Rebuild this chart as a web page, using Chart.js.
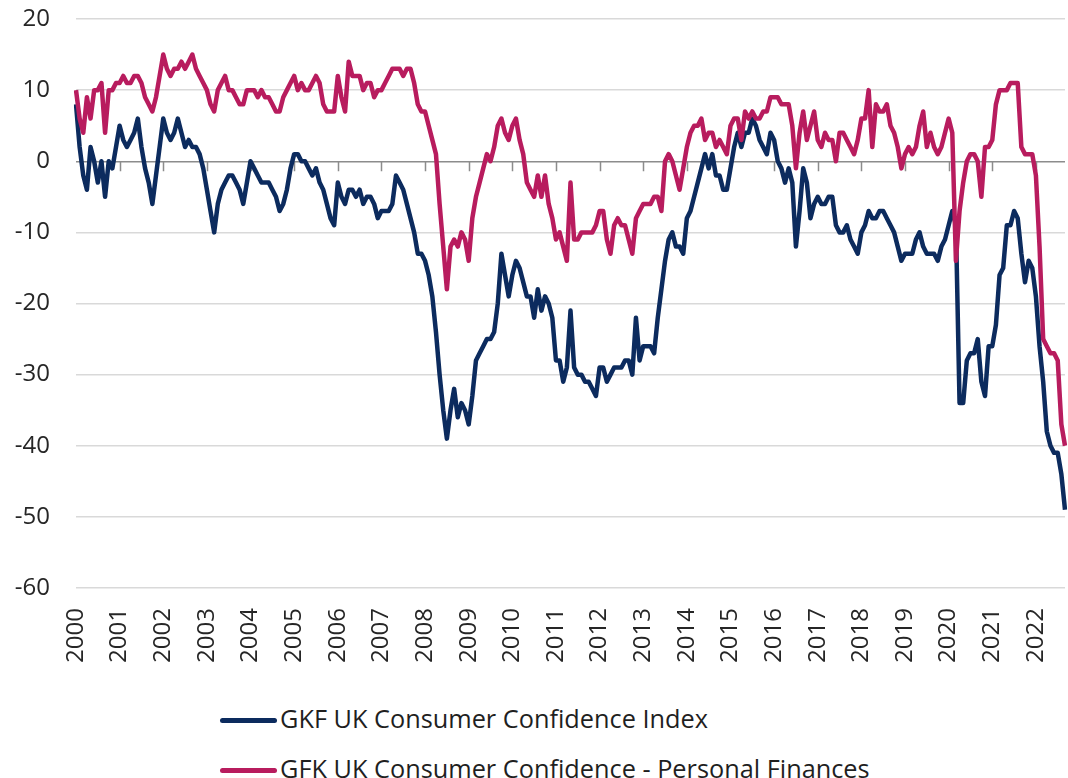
<!DOCTYPE html>
<html>
<head>
<meta charset="utf-8">
<script src="https://cdn.jsdelivr.net/npm/chart.js@4.4.1/dist/chart.umd.min.js"></script>
<style>
  html, body { margin: 0; padding: 0; background: #fff; }
  #wrap { position: relative; width: 1068px; height: 778px; overflow: hidden; }
  #box { position: absolute; left: 0; top: 0; width: 1068px; height: 690px; }
  .leg { position: absolute; left: 220px; height: 34px; line-height: 34px; font-family: "Open Sans", sans-serif; font-size: 25.3px; color: #1f1f1f; white-space: nowrap; }
  .leg span { display: inline-block; width: 57px; height: 5px; border-radius: 3px; vertical-align: middle; margin-right: 3px; position: relative; top: -1px; }
</style>
</head>
<body>
<div id="wrap">
  <div id="box"><canvas id="chart"></canvas></div>
  <div class="leg" style="top:701px"><span style="background:#0c2b5e"></span>GKF UK Consumer Confidence Index</div>
  <div class="leg" style="top:751px"><span style="background:#b81c5e"></span>GFK UK Consumer Confidence - Personal Finances</div>
</div>
<script>
// years shown on the x axis (monthly data, Jan 2000 - Sep 2022)
const yearLabels = ["2000","2001","2002","2003","2004","2005","2006","2007","2008","2009","2010",
  "2011","2012","2013","2014","2015","2016","2017","2018","2019","2020","2021","2022"];

const yTicks = [20, 10, 0, -10, -20, -30, -40, -50, -60];

// GfK headline index
const confidenceIndex = [
  8, 2, -2, -4, 2, 0, -3, 0, -5, 0, -1, 2,
  5, 3, 2, 3, 4, 6, 2, -1, -3, -6, -2, 2,
  6, 4, 3, 4, 6, 4, 2, 3, 2, 2, 1, -1,
  -4, -7, -10, -6, -4, -3, -2, -2, -3, -4, -6, -3,
  0, -1, -2, -3, -3, -3, -4, -5, -7, -6, -4, -1,
  1, 1, 0, 0, -1, -2, -1, -3, -4, -6, -8, -9,
  -3, -5, -6, -4, -4, -5, -4, -6, -5, -5, -6, -8,
  -7, -7, -7, -6, -2, -3, -4, -6, -8, -10, -13, -13,
  -14, -16, -19, -24, -30, -35, -39, -35, -32, -36, -34, -35,
  -37, -33, -28, -27, -26, -25, -25, -24, -20, -13, -16, -19,
  -16, -14, -15, -17, -19, -19, -22, -18, -21, -19, -20, -22,
  -28, -28, -31, -29, -21, -29, -30, -30, -31, -31, -32, -33,
  -29, -29, -31, -30, -29, -29, -29, -28, -28, -30, -22, -28,
  -26, -26, -26, -27, -22, -18, -14, -11, -10, -12, -12, -13,
  -8, -7, -5, -3, -1, 1, -1, 1, -2, -2, -4, -4,
  -1, 2, 4, 2, 4, 4, 6, 5, 3, 2, 1, 4,
  3, 0, -1, -3, -1, -3, -12, -7, -1, -3, -8, -6,
  -5, -6, -6, -5, -5, -9, -10, -10, -9, -11, -12, -13,
  -10, -9, -7, -8, -8, -7, -7, -8, -9, -10, -12, -14,
  -13, -13, -13, -11, -10, -12, -13, -13, -13, -14, -12, -11,
  -9, -7, -9, -34, -34, -28, -27, -27, -25, -31, -33, -26,
  -26, -23, -16, -15, -9, -9, -7, -8, -13, -17, -14, -15,
  -19, -26, -31, -38, -40, -41, -41, -44, -49
];

// GfK personal finances sub-index
const personalFinances = [
  10, 6, 4, 9, 6, 10, 10, 11, 4, 10, 10, 11,
  11, 12, 11, 11, 12, 12, 11, 9, 8, 7, 9, 12,
  15, 13, 12, 13, 13, 14, 13, 14, 15, 13, 12, 11,
  10, 8, 7, 10, 11, 12, 10, 10, 9, 8, 8, 10,
  10, 10, 9, 10, 9, 9, 8, 7, 7, 9, 10, 11,
  12, 10, 11, 10, 10, 11, 12, 11, 8, 7, 7, 7,
  12, 9, 7, 14, 12, 12, 12, 10, 11, 11, 9, 10,
  10, 11, 12, 13, 13, 13, 12, 13, 13, 11, 8, 7,
  7, 5, 3, 1, -6, -12, -18, -12, -11, -12, -10, -11,
  -14, -8, -5, -3, -1, 1, 0, 2, 5, 6, 4, 3,
  5, 6, 3, 1, -3, -4, -5, -2, -5, -2, -6, -8,
  -11, -10, -12, -14, -3, -11, -11, -10, -10, -10, -10, -9,
  -7, -7, -11, -13, -9, -8, -9, -9, -11, -13, -8, -7,
  -6, -6, -6, -5, -5, -7, 0, 1, 0, -2, -4, -1,
  2, 4, 5, 5, 6, 3, 4, 4, 2, 3, 2, 1,
  5, 6, 6, 3, 7, 6, 7, 6, 6, 7, 7, 9,
  9, 9, 8, 8, 8, 5, -1, 4, 7, 3, 5, 7,
  3, 2, 4, 3, 3, 0, 4, 4, 3, 2, 1, 3,
  6, 6, 10, 2, 8, 7, 7, 8, 5, 4, 2, -1,
  1, 2, 1, 2, 5, 7, 2, 4, 2, 1, 2, 4,
  6, 4, -14, -7, -3, 0, 1, 1, 0, -5, 2, 2,
  3, 8, 10, 10, 10, 11, 11, 11, 2, 1, 1, 1,
  -2, -12, -25, -26, -27, -27, -28, -37, -40
];

// one label per month, built from the year list
const monthLabels = [];
yearLabels.forEach(y => {
  for (let m = 1; m <= 12; m++) {
    if (monthLabels.length < confidenceIndex.length) monthLabels.push(y + "-" + String(m).padStart(2, "0"));
  }
});

// the zero line in the picture carries small tick marks at each January
const zeroLineTicks = {
  id: "zeroLineTicks",
  beforeDatasetsDraw(chart) {
    const { ctx, scales: { x, y } } = chart;
    const y0 = y.getPixelForValue(0);
    ctx.save();
    ctx.strokeStyle = "#8c8c8c";
    ctx.lineWidth = 1.5;
    ctx.beginPath();
    monthLabels.forEach((lab, i) => {
      if (i % 12 === 0 && i > 0) {
        const px = Math.round(x.getPixelForValue(i)) + 0.5;
        ctx.moveTo(px, y0);
        ctx.lineTo(px, y0 + 10);
      }
    });
    ctx.stroke();
    ctx.restore();
  }
};

new Chart(document.getElementById("chart"), {
  type: "line",
  data: {
    labels: monthLabels,
    datasets: [{
      label: "GKF UK Consumer Confidence Index",
      data: confidenceIndex,
      borderColor: "#0c2b5e",
      borderWidth: 4.5,
      pointRadius: 0,
      tension: 0,
      borderJoinStyle: "round",
      order: 1
    }, {
      label: "GFK UK Consumer Confidence - Personal Finances",
      data: personalFinances,
      borderColor: "#b81c5e",
      borderWidth: 4.5,
      pointRadius: 0,
      tension: 0,
      borderJoinStyle: "round",
      order: 0
    }]
  },
  options: {
    responsive: true,
    maintainAspectRatio: false,
    animation: false,
    layout: { padding: { top: 19, right: 3, left: 0, bottom: 0 } },
    plugins: {
      legend: { display: false },
      tooltip: { enabled: false }
    },
    scales: {
      x: {
        offset: false,
        grid: { display: false, drawTicks: false },
        border: { display: false },
        afterFit: s => {
          s.height = 102;
          s.paddingLeft = 0;
          s.paddingRight = 0;
        },
        ticks: {
          autoSkip: false,
          maxRotation: 90,
          minRotation: 90,
          padding: 20,
          color: "#262626",
          font: { family: "Open Sans", size: 24 },
          callback: (v, i) => i % 12 === 0 ? monthLabels[i].slice(0, 4) : null
        }
      },
      y: {
        min: -60,
        max: 20,
        afterFit: s => {
          s.width = 76;
          s.paddingTop = 0;
          s.paddingBottom = 0;
        },
        afterBuildTicks: s => { s.ticks = yTicks.map(v => ({ value: v })); },
        grid: {
          drawTicks: false,
          lineWidth: 1.5,
          color: c => c.tick && c.tick.value === 0 ? "#8c8c8c" : "#d9d9d9"
        },
        border: { display: false },
        ticks: {
          padding: 26,
          color: "#262626",
          font: { family: "Open Sans", size: 24 }
        }
      }
    }
  },
  plugins: [zeroLineTicks]
});
</script>
</body>
</html>
